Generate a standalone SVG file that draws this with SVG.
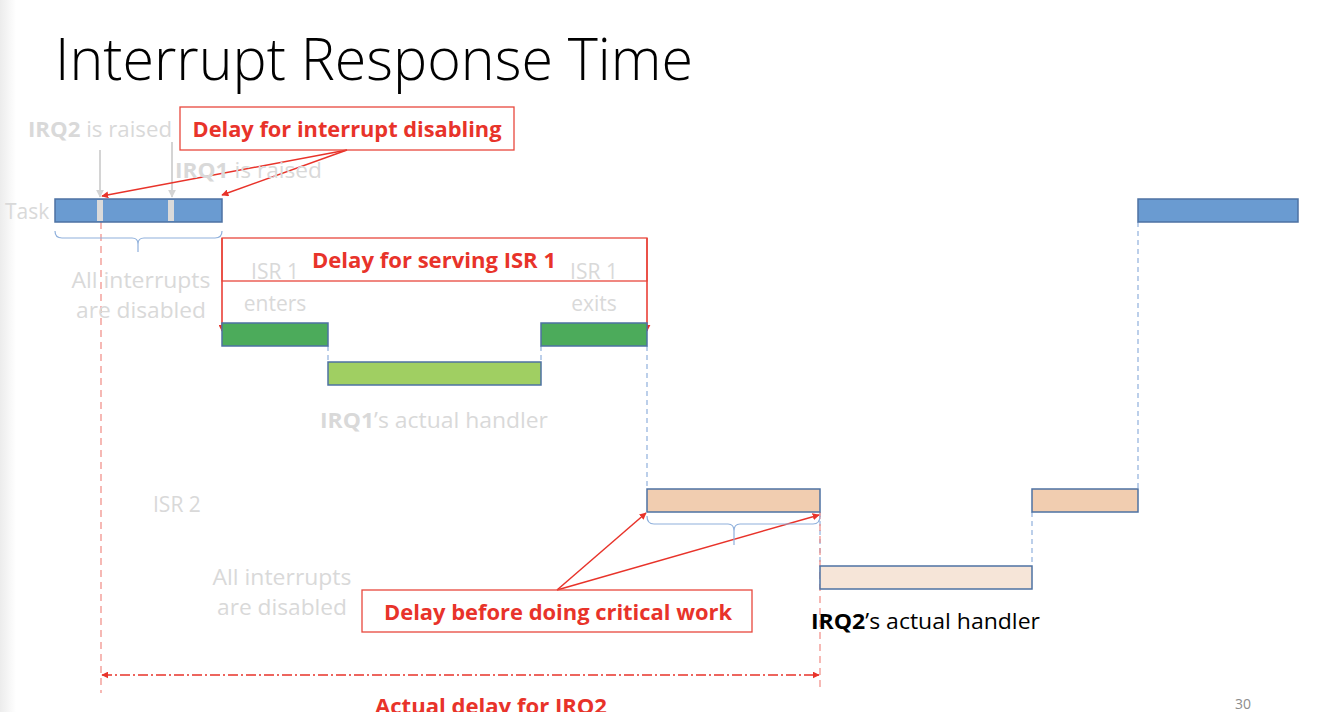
<svg xmlns="http://www.w3.org/2000/svg" width="1322" height="712" viewBox="0 0 1322 712">
<defs>
<style>
.t{font-family:"Open Sans","Liberation Sans",sans-serif}
.g{fill:#d9d9d9;font-size:21px}
.r{fill:#e8332a;font-size:22px;font-weight:bold}
.b{font-weight:bold}
.box{fill:none;stroke:#e8483d;stroke-width:1.3}
.ra{stroke:#e8332a;stroke-width:1.5;fill:none}
.ga{stroke:#d4d4d4;stroke-width:2;fill:none}
.bd{stroke:#8fb0dc;stroke-width:1.2;stroke-dasharray:5,4;fill:none}
.rd{stroke:#f08a84;stroke-width:1.2;stroke-dasharray:7,5;fill:none}
.task{fill:#6a9bd1;stroke:#4d72a3;stroke-width:1.5}
.isr1{fill:#4cab5b;stroke:#4d72a3;stroke-width:1.5}
.h1{fill:#a0cf62;stroke:#4d72a3;stroke-width:1.5}
.isr2{fill:#f1cdb0;stroke:#4d72a3;stroke-width:1.5}
.h2{fill:#f6e5d8;stroke:#4d72a3;stroke-width:1.5}
.br{stroke:#8fb0dc;stroke-width:1.2;fill:none}
</style>
<marker id="ar" viewBox="0 0 10 10" refX="9" refY="5" markerWidth="7" markerHeight="7" orient="auto-start-reverse" markerUnits="userSpaceOnUse"><path d="M0,0 L10,5 L0,10 z" fill="#e8332a"/></marker>
<marker id="ag" viewBox="0 0 10 10" refX="9" refY="5" markerWidth="8" markerHeight="8" orient="auto" markerUnits="userSpaceOnUse"><path d="M0,0 L10,5 L0,10 z" fill="#d4d4d4"/></marker>
<linearGradient id="edge" x1="0" y1="0" x2="1" y2="0"><stop offset="0" stop-color="#ececec"/><stop offset="1" stop-color="#ffffff"/></linearGradient>
</defs>
<rect x="0" y="0" width="1322" height="712" fill="#ffffff"/>
<rect x="0" y="0" width="16" height="712" fill="url(#edge)"/>

<text class="t" x="55" y="80" font-size="58" font-weight="300" fill="#000" textLength="638" lengthAdjust="spacingAndGlyphs">Interrupt Response Time</text>

<g id="connectors">
<line class="bd" x1="328" y1="346" x2="328" y2="362"/>
<line class="bd" x1="541" y1="346" x2="541" y2="362"/>
<line class="bd" x1="647" y1="346" x2="647" y2="489"/>
<line class="bd" x1="820" y1="512" x2="820" y2="566"/>
<line class="bd" x1="1032" y1="512" x2="1032" y2="566"/>
<line class="bd" x1="1138" y1="222" x2="1138" y2="489"/>
<line class="rd" x1="101" y1="222" x2="101" y2="693"/>
<line class="rd" x1="820" y1="512" x2="820" y2="690"/>
<line class="ga" x1="100" y1="150" x2="100" y2="197" marker-end="url(#ag)"/>
<line class="ga" x1="172" y1="142" x2="172" y2="197" marker-end="url(#ag)"/>
<line class="ra" x1="347" y1="150" x2="102" y2="196" marker-end="url(#ar)"/>
<line class="ra" x1="347" y1="150" x2="222" y2="195" marker-end="url(#ar)"/>
<line class="ra" x1="222" y1="238" x2="222" y2="331" marker-end="url(#ar)"/>
<line class="ra" x1="647" y1="238" x2="647" y2="331" marker-end="url(#ar)"/>
<line class="ra" x1="557" y1="590" x2="646" y2="513" marker-end="url(#ar)"/>
<line class="ra" x1="557" y1="590" x2="819" y2="515" marker-end="url(#ar)"/>
<line stroke="#e8332a" stroke-width="1.5" stroke-dasharray="10,3,2,3" x1="102" y1="675" x2="819" y2="675" marker-start="url(#ar)" marker-end="url(#ar)"/>
<path class="br" d="M55,231 Q55,238 62,238 L132,238 Q138,238 138,244 L138,252 M138,244 Q138,238 144,238 L215,238 Q222,238 222,231"/>
<path class="br" d="M647,516 Q647,524 654,524 L728,524 Q734,524 734,531 L734,545 M734,531 Q734,524 740,524 L813,524 Q820,524 820,516"/>
</g>

<g id="task1">
<rect class="task" x="55" y="199" width="167" height="23"/>
<rect x="97" y="200" width="6" height="21" fill="#dadada"/>
<rect x="168" y="200" width="6" height="21" fill="#dadada"/>
<text class="t g" x="5" y="219">Task</text>
</g>
<g id="task2"><rect class="task" x="1138" y="199" width="160" height="23"/></g>

<g id="irq2raised"><text class="t g" x="28" y="137" textLength="144" lengthAdjust="spacingAndGlyphs"><tspan class="b">IRQ2</tspan> is raised</text></g>
<g id="irq1raised"><text class="t g" x="175" y="178" textLength="147" lengthAdjust="spacingAndGlyphs"><tspan class="b">IRQ1</tspan> is raised</text></g>

<g id="delayDisabling">
<rect class="box" x="180" y="107" width="334" height="43" fill="#fff"/>
<text class="t r" x="347" y="137" text-anchor="middle" textLength="309" lengthAdjust="spacingAndGlyphs">Delay for interrupt disabling</text>
</g>

<g id="disabled1">
<text class="t g" x="141" y="288" text-anchor="middle" textLength="139" lengthAdjust="spacingAndGlyphs">All interrupts</text>
<text class="t g" x="141" y="318" text-anchor="middle" textLength="130" lengthAdjust="spacingAndGlyphs">are disabled</text>
</g>

<g id="delayServing">
<rect class="box" x="222" y="238" width="425" height="43"/>
<text class="t r" x="434" y="268" text-anchor="middle" textLength="244" lengthAdjust="spacingAndGlyphs">Delay for serving ISR 1</text>
</g>

<g id="isr1enters">
<text class="t g" x="275" y="279" text-anchor="middle">ISR 1</text>
<text class="t g" x="275" y="311" text-anchor="middle">enters</text>
<rect class="isr1" x="222" y="323" width="106" height="23"/>
</g>
<g id="irq1handler">
<rect class="h1" x="328" y="362" width="213" height="23"/>
<text class="t g" x="434" y="428" text-anchor="middle" textLength="228" lengthAdjust="spacingAndGlyphs"><tspan class="b">IRQ1</tspan>’s actual handler</text>
</g>
<g id="isr1exits">
<text class="t g" x="594" y="279" text-anchor="middle">ISR 1</text>
<text class="t g" x="594" y="311" text-anchor="middle">exits</text>
<rect class="isr1" x="541" y="323" width="106" height="23"/>
</g>

<g id="isr2label"><text class="t g" x="153" y="512">ISR 2</text></g>
<g id="isr2enter"><rect class="isr2" x="647" y="489" width="173" height="23"/></g>
<g id="irq2handler">
<rect class="h2" x="820" y="566" width="212" height="23"/>
<text class="t" x="811" y="629" font-size="21" fill="#000" textLength="229" lengthAdjust="spacingAndGlyphs"><tspan class="b">IRQ2</tspan>’s actual handler</text>
</g>
<g id="isr2exit"><rect class="isr2" x="1032" y="489" width="106" height="23"/></g>

<g id="disabled2">
<text class="t g" x="282" y="585" text-anchor="middle" textLength="139" lengthAdjust="spacingAndGlyphs">All interrupts</text>
<text class="t g" x="282" y="615" text-anchor="middle" textLength="130" lengthAdjust="spacingAndGlyphs">are disabled</text>
</g>

<g id="delayCritical">
<rect class="box" x="362" y="590" width="390" height="42" fill="#fff"/>
<text class="t r" x="558" y="620" text-anchor="middle" textLength="348" lengthAdjust="spacingAndGlyphs">Delay before doing critical work</text>
</g>

<g id="actualDelay">
<text class="t r" x="491" y="714" text-anchor="middle" textLength="232" lengthAdjust="spacingAndGlyphs">Actual delay for IRQ2</text>
</g>
<text class="t" x="1243" y="709" font-size="14" fill="#8c8c8c" text-anchor="middle">30</text>
</svg>
